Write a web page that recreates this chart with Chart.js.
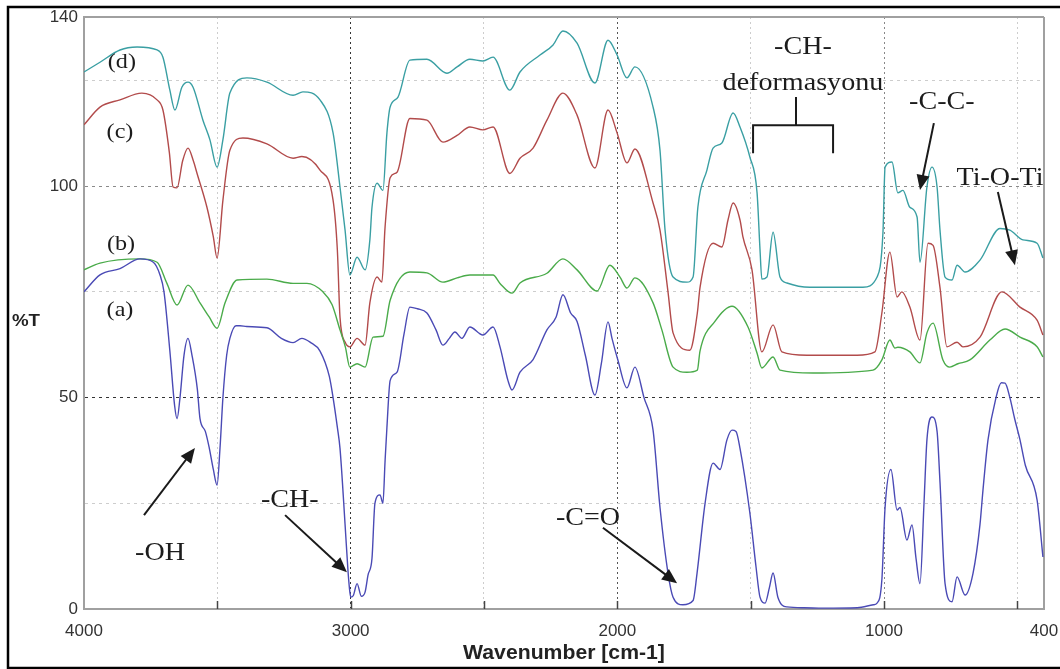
<!DOCTYPE html>
<html>
<head>
<meta charset="utf-8">
<title>FTIR %T</title>
<script src="https://cdn.jsdelivr.net/npm/chart.js@4.4.1/dist/chart.umd.min.js"></script>
<style>
  html, body { margin: 0; padding: 0; background: #ffffff; }
  #chart { display: block; }
</style>
</head>
<body>
<canvas id="chart" width="1060" height="669"></canvas>
<script>
// Eje X (numero de onda) y etiquetas
const xTickValues = [4000, 3500, 3000, 2500, 2000, 1500, 1000, 500, 400];
const xTickLabels = [4000, 3000, 2000, 1000, 400];
const yTickValues = [0, 25, 50, 75, 100, 125, 140];
const yTickLabels = [0, 50, 100, 140];

// Espectros [numero de onda, %T]
const seriesA = [[4000,75],[3940,79],[3865,80.5],[3790,82.8],[3740,82],[3715,79],[3700,75],[3678,61],[3660,48],[3651,45],[3640,50],[3625,60],[3610,64],[3595,60],[3575,52],[3565,45],[3545,42],[3530,38],[3515,33],[3501,29.3],[3490,38],[3479,50],[3465,60],[3453,64],[3430,67],[3415,67],[3390,66.8],[3314,66.5],[3260,64],[3216,63],[3183,64],[3150,63],[3115,61],[3080,55],[3066,50],[3050,43],[3040,38],[3021,20],[3010,9],[3003,4],[2999,2.8],[2990,3.2],[2976,6],[2960,3],[2946,4],[2935,8],[2920,12],[2909,25],[2890,27],[2879,25],[2871,35],[2864,43],[2852,54],[2826,56],[2800,65],[2778,71.4],[2750,71],[2714,70],[2680,66],[2654,62.4],[2630,64],[2609,65.5],[2583,64],[2553,66.7],[2504,64.8],[2466,66.7],[2440,62],[2410,54],[2395,51.8],[2365,56],[2316,59],[2264,66],[2230,69],[2204,74.3],[2175,70],[2151,68],[2120,60],[2084,50.6],[2060,58],[2035,67.9],[2020,64],[1998,58.9],[1964,52.3],[1934,57.2],[1900,50],[1866,42.3],[1840,24],[1810,8.5],[1791,2.8],[1754,1],[1716,2],[1701,8.5],[1671,25],[1641,34.5],[1615,33],[1589,40],[1570,42.3],[1555,42],[1540,38],[1503,22.7],[1480,10],[1465,2.8],[1446,1.4],[1430,5],[1416,8.5],[1398,2.8],[1364,0.5],[1300,0.3],[1229,0.2],[1100,0.3],[1040,1],[1026,1.4],[1008,6.9],[996,24],[974,33],[951,23.4],[940,24],[914,16.3],[895,19.9],[880,12],[865,6],[850,25],[839,40],[820,45.4],[801,42],[790,30],[771,6],[745,1.7],[726,7.6],[696,3.3],[666,8.5],[640,20],[629,28],[610,40],[580,50],[560,53.5],[546,53.4],[528,50],[510,45],[490,40],[470,34],[426,25.8],[404,12.3]];

const seriesB = [[4000,80.2],[3940,81.8],[3790,82.8],[3726,82],[3689,77],[3651,71.9],[3610,76.6],[3565,72.4],[3530,69],[3501,66.4],[3471,72.4],[3426,77.8],[3314,78],[3216,77],[3164,77],[3104,75],[3070,72],[3040,66],[3020,62],[3003,57.2],[2976,58],[2946,57.2],[2916,64.3],[2879,64.5],[2852,73],[2778,79.7],[2714,79.5],[2654,77.3],[2601,78.3],[2553,79],[2466,79],[2440,77],[2395,74.7],[2365,77.1],[2264,79.4],[2204,82.8],[2151,80.2],[2076,75.2],[2028,81.3],[1990,78.5],[1964,75.9],[1934,78.3],[1866,72.4],[1833,66],[1791,57.2],[1739,56],[1700,56.5],[1690,61],[1634,68],[1570,71.6],[1510,66.7],[1476,60.5],[1458,57],[1416,59.6],[1390,56.5],[1266,55.8],[1041,56.5],[1008,58.9],[978,63.6],[959,61.7],[948,61.9],[903,60.8],[865,58.2],[839,65.3],[816,67.6],[779,58.9],[753,57.2],[723,58],[678,58.9],[603,63.6],[546,66.2],[490,64.3],[426,62],[404,59.6]];

const seriesC = [[4000,114.5],[3940,118.7],[3865,120.4],[3783,122],[3726,120.4],[3704,118],[3680,108],[3666,99.8],[3651,99.6],[3630,106],[3610,109],[3590,106],[3576,103],[3539,95],[3515,88],[3501,83],[3479,96.7],[3453,108.5],[3404,111.4],[3314,110],[3216,106.6],[3183,107],[3115,103.8],[3066,96.7],[3050,85],[3040,69],[3020,63],[3003,62],[2976,64],[2946,62.4],[2928,72.4],[2901,78.5],[2883,77.3],[2871,90.3],[2852,102],[2826,103.3],[2778,116],[2714,115.6],[2654,110.4],[2601,112],[2553,114],[2504,113.3],[2466,114],[2403,103],[2365,106.6],[2316,109],[2264,115.6],[2204,122],[2151,116.8],[2084,104.3],[2035,118],[2001,112.6],[1964,105.5],[1934,108.8],[1866,96],[1840,89.6],[1810,75],[1791,65.3],[1728,61.2],[1700,70],[1690,76],[1641,86.5],[1608,85.6],[1585,92],[1566,96],[1540,92],[1529,88],[1495,80.2],[1458,60.8],[1416,67.2],[1383,60.8],[1289,60],[1101,60],[1034,60.8],[1008,70],[978,84.4],[951,73.8],[933,75],[903,71.4],[865,63.6],[835,86.5],[816,86],[790,76],[764,62],[726,63.1],[704,62],[640,64.3],[558,75],[490,71.4],[426,68.3],[404,64.8]];

const seriesD = [[4000,127],[3940,129.3],[3865,132.2],[3801,132.9],[3726,132.2],[3704,130.5],[3678,122.7],[3659,118],[3633,123.4],[3610,124.6],[3591,123.4],[3554,115.6],[3528,111],[3501,104.5],[3479,111],[3453,122],[3389,125.6],[3314,124.6],[3216,121.5],[3179,122.3],[3115,120.4],[3066,112.6],[3040,99.8],[3021,89.6],[3003,79],[2976,83.2],[2946,80.2],[2928,87.3],[2920,95],[2901,100.7],[2879,99],[2864,112.6],[2852,118.7],[2823,121],[2778,129.8],[2714,130],[2639,126.7],[2601,128.2],[2553,130],[2504,129.6],[2466,130.5],[2403,122.7],[2365,127],[2290,131],[2241,133.4],[2204,136.7],[2151,133.8],[2084,124.4],[2035,134.5],[2001,131],[1964,125.6],[1934,128.2],[1866,118.7],[1840,108.5],[1821,89.6],[1791,78.5],[1739,77.3],[1716,78.5],[1698,95],[1664,103.8],[1641,109],[1608,110.2],[1566,117.3],[1540,114],[1503,106.9],[1476,98.4],[1465,85],[1458,78],[1439,78.5],[1416,89.1],[1390,78.5],[1364,77.1],[1278,76.1],[1079,76.1],[1026,78.5],[1004,88.9],[996,104.5],[970,105.7],[948,98.4],[929,99],[903,95],[876,92.7],[865,82],[839,99.8],[820,104.5],[801,99.8],[790,89.6],[771,78.5],[745,77.8],[726,81.3],[696,79.7],[640,82.5],[565,90],[528,89.6],[479,87.3],[426,86.5],[404,83]];

// Anotaciones en unidades de datos
const curveLabels = [['(d)', 3858, 129.3], ['(c)', 3865, 112.6], ['(b)', 3861, 86.1], ['(a)', 3865, 70.5]];
const bandTexts = [['-OH', 3715, 13.2], ['-CH-', 3228, 25.8], ['-C=O', 2110, 21.5], ['-CH-', 1304, 132.9], ['deformasyonu', 1304, 124.4], ['-C-C-', 783, 119.9], ['Ti-O-Ti', 565, 101.9]];
const bandArrows = [[3775, 22.2, 3584, 38.1], [3246, 22.2, 3014, 8.7], [2054, 19.2, 1776, 6.1], [813, 114.9, 865, 99.1], [573, 98.6, 509, 81.3]];

function toPoints(series) {
    return series.map(p => ({ x: p[0], y: p[1] }));
}

function drawStretched(ctx, text, x, y, sx) {
    ctx.save();
    ctx.translate(x, y);
    ctx.scale(sx, 1);
    ctx.fillText(text, 0, 0);
    ctx.restore();
}

function drawArrow(ctx, x1, y1, x2, y2) {
    const a = Math.atan2(y2 - y1, x2 - x1);
    const len = 15, half = 6.5;
    const bx = x2 - Math.cos(a) * len, by = y2 - Math.sin(a) * len;
    ctx.beginPath();
    ctx.moveTo(x1, y1);
    ctx.lineTo(bx + Math.cos(a) * 2, by + Math.sin(a) * 2);
    ctx.stroke();
    ctx.beginPath();
    ctx.moveTo(x2, y2);
    ctx.lineTo(bx + Math.sin(a) * half, by - Math.cos(a) * half);
    ctx.lineTo(bx - Math.sin(a) * half, by + Math.cos(a) * half);
    ctx.closePath();
    ctx.fill();
}

const annotationPlugin = {
    id: 'ftirAnnotations',
    afterDatasetsDraw(chart) {
        const ctx = chart.ctx;
        const xs = chart.scales.x, ys = chart.scales.y;
        const area = chart.chartArea;
        ctx.save();

        // marcas interiores del eje X
        ctx.strokeStyle = '#444';
        ctx.lineWidth = 1.5;
        [3500, 3000, 2500, 2000, 1500, 1000, 500].forEach(v => {
            const px = Math.round(xs.getPixelForValue(v)) + 0.5;
            ctx.beginPath();
            ctx.moveTo(px, area.bottom);
            ctx.lineTo(px, area.bottom - 8);
            ctx.stroke();
        });

        ctx.fillStyle = '#1c1c1c';
        ctx.textAlign = 'center';
        ctx.textBaseline = 'middle';

        // etiquetas de curvas
        ctx.font = '21px "Liberation Serif", "Times New Roman", serif';
        curveLabels.forEach(l => {
            drawStretched(ctx, l[0], xs.getPixelForValue(l[1]), ys.getPixelForValue(l[2]), 1.15);
        });

        // textos de bandas
        ctx.font = '26px "Liberation Serif", "Times New Roman", serif';
        bandTexts.forEach(t => {
            drawStretched(ctx, t[0], xs.getPixelForValue(t[1]), ys.getPixelForValue(t[2]), 1.08);
        });

        // flechas
        ctx.strokeStyle = '#1a1a1a';
        ctx.fillStyle = '#1a1a1a';
        ctx.lineWidth = 2;
        bandArrows.forEach(a => {
            drawArrow(ctx, xs.getPixelForValue(a[0]), ys.getPixelForValue(a[1]),
                      xs.getPixelForValue(a[2]), ys.getPixelForValue(a[3]));
        });

        // corchete de deformacion -CH-
        const bL = xs.getPixelForValue(1491), bR = xs.getPixelForValue(1191), bM = xs.getPixelForValue(1330);
        const yStem = ys.getPixelForValue(121.1), yBar = ys.getPixelForValue(114.4), yLeg = ys.getPixelForValue(107.8);
        ctx.beginPath();
        ctx.moveTo(bM, yStem); ctx.lineTo(bM, yBar);
        ctx.moveTo(bL, yLeg); ctx.lineTo(bL, yBar); ctx.lineTo(bR, yBar); ctx.lineTo(bR, yLeg);
        ctx.stroke();

        ctx.restore();
    },
    afterDraw(chart) {
        const ctx = chart.ctx;
        const area = chart.chartArea;
        ctx.save();
        ctx.fillStyle = '#222';
        ctx.textAlign = 'center';
        ctx.textBaseline = 'middle';
        ctx.font = 'bold 17px "Liberation Sans", Arial, sans-serif';
        drawStretched(ctx, '%T', area.left - 58, chart.scales.y.getPixelForValue(68), 1.1);
        ctx.font = 'bold 20px "Liberation Sans", Arial, sans-serif';
        drawStretched(ctx, 'Wavenumber [cm-1]', (area.left + area.right) / 2, area.bottom + 44, 1.06);

        // marco exterior
        ctx.strokeStyle = '#000';
        ctx.lineWidth = 2.5;
        ctx.strokeRect(8, 7, 1100, 661);
        ctx.restore();
    }
};

function xGridColor(c) {
    const v = c.tick ? c.tick.value : null;
    if (v === 4000) return 'rgba(0,0,0,0)';
    if (v === 400) return '#a0a0a0';
    if (v === 3000) return '#333333';
    if (v === 2000) return '#555555';
    if (v === 1000) return '#888888';
    return '#cdcdcd';
}

function xGridDash(c) {
    const v = c.tick ? c.tick.value : null;
    if (v === 400 || v === null) return [];
    return [2, 3];
}

function yGridColor(c) {
    const v = c.tick ? c.tick.value : null;
    if (v === 0) return 'rgba(0,0,0,0)';
    if (v === 140) return '#a0a0a0';
    if (v === 50) return '#333333';
    if (v === 100) return '#8a8a8a';
    return '#cdcdcd';
}

function yGridDash(c) {
    const v = c.tick ? c.tick.value : null;
    if (v === 140 || v === null) return [];
    return [3, 4];
}

function makeDataset(label, series, color) {
    return {
        label: label,
        data: toPoints(series),
        borderColor: color,
        borderWidth: 1.4,
        pointRadius: 0,
        fill: false,
        cubicInterpolationMode: 'monotone'
    };
}

const ctx = document.getElementById('chart').getContext('2d');
const chart = new Chart(ctx, {
    type: 'line',
    data: {
        datasets: [
            makeDataset('(a)', seriesA, '#4a4ab5'),
            makeDataset('(b)', seriesB, '#4aab4a'),
            makeDataset('(c)', seriesC, '#b24b4b'),
            makeDataset('(d)', seriesD, '#3a9fa3')
        ]
    },
    options: {
        responsive: false,
        animation: false,
        layout: { padding: { left: 0, top: 17, right: 16, bottom: 0 } },
        plugins: {
            legend: { display: false },
            tooltip: { enabled: false }
        },
        scales: {
            x: {
                type: 'linear',
                reverse: true,
                min: 400,
                max: 4000,
                afterBuildTicks: s => { s.ticks = xTickValues.map(v => ({ value: v })); },
                afterFit: s => { s.height = 60; s.paddingLeft = 0; s.paddingRight = 0; },
                ticks: {
                    autoSkip: false,
                    maxRotation: 0,
                    padding: 12,
                    color: '#333',
                    font: { family: '"Liberation Sans", Arial, sans-serif', size: 17 },
                    callback: v => xTickLabels.includes(v) ? String(v) : ''
                },
                grid: {
                    drawTicks: false,
                    color: xGridColor,
                    lineWidth: c => (c.tick && c.tick.value === 400) ? 2 : 1
                },
                border: { color: '#a0a0a0', width: 2, dash: xGridDash }
            },
            y: {
                type: 'linear',
                min: 0,
                max: 140,
                afterBuildTicks: s => { s.ticks = yTickValues.map(v => ({ value: v })); },
                afterFit: s => { s.width = 84; s.paddingTop = 0; s.paddingBottom = 0; },
                ticks: {
                    autoSkip: false,
                    padding: 6,
                    color: '#333',
                    font: { family: '"Liberation Sans", Arial, sans-serif', size: 17 },
                    callback: v => yTickLabels.includes(v) ? String(v) : ''
                },
                grid: {
                    drawTicks: false,
                    color: yGridColor,
                    lineWidth: c => (c.tick && c.tick.value === 140) ? 2 : 1
                },
                border: { color: '#a0a0a0', width: 2, dash: yGridDash }
            }
        }
    },
    plugins: [annotationPlugin]
});
</script>
</body>
</html>
